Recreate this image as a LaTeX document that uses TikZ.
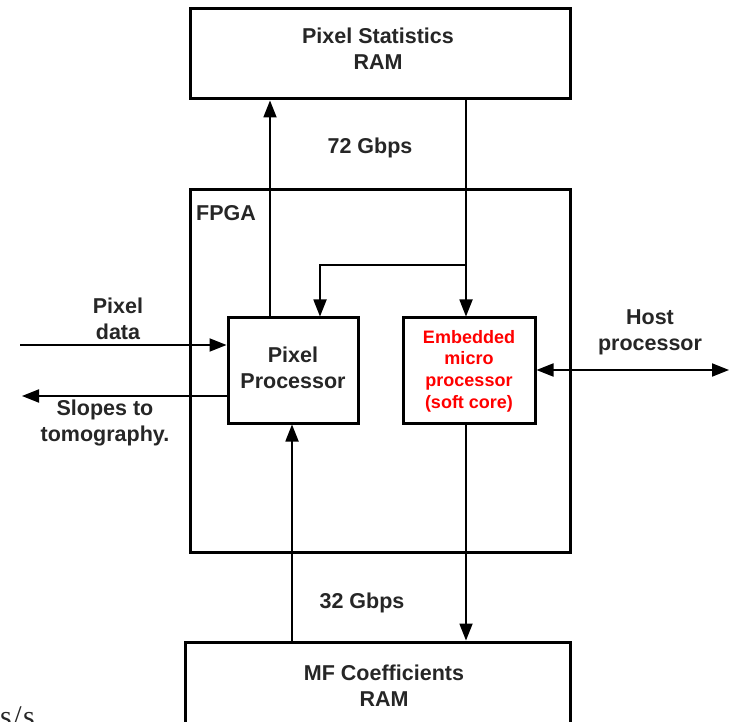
\documentclass[tikz,border=0pt]{standalone}
\usepackage{fontspec}
\setmainfont{Liberation Sans}
\newfontfamily\serifface{Liberation Serif}
\usetikzlibrary{arrows.meta}
\definecolor{embred}{RGB}{255,0,0}
\begin{document}
\begin{tikzpicture}[x=1pt,y=-1pt,
  box/.style={draw=black,line width=3pt,fill=white,inner sep=0pt,rectangle},
  lbl/.style={font=\bfseries\fontsize{21.5}{26}\selectfont,align=center,inner sep=0pt,text=black!85},
  conn/.style={line width=1.8pt},
  arr/.style={conn,-{Triangle[length=17pt,width=13pt]}},
  dblarr/.style={conn,{Triangle[length=17pt,width=13pt]}-{Triangle[length=17pt,width=13pt]}}]
\useasboundingbox (0,0) rectangle (729,722);
% boxes
\node[box,minimum width=380pt,minimum height=90pt] (stat) at (380,54) {};
\node[lbl] (statt) at (378,48.5) {Pixel Statistics\\RAM};
\node[box,minimum width=380pt,minimum height=362pt] (fpga) at (380,371) {};
\node[lbl,anchor=west] (fpgat) at (196,213) {FPGA};
\node[box,minimum width=130pt,minimum height=105pt] (pp) at (293,370.5) {};
\node[lbl] (ppt) at (293,368) {Pixel\\Processor};
\node[box,minimum width=132pt,minimum height=105pt] (emb) at (469,370.5) {};
\node[font=\bfseries\fontsize{18}{21.7}\selectfont,align=center,inner sep=0pt,text=embred] (embt) at (469,371) {Embedded\\micro\\processor\\(soft core)};
\node[box,minimum width=385pt,minimum height=88pt] (mf) at (377.5,686) {};
\node[lbl] (mft) at (384,686) {MF Coefficients\\RAM};
% labels
\node[lbl] (g72) at (370,148) {72 Gbps};
\node[lbl] (g32) at (362,603) {32 Gbps};
\node[lbl] (pdat) at (118,319) {Pixel\\data};
\node[lbl] (slope) at (105,423) {Slopes to\\tomography.};
\node[lbl] (host) at (650,332) {Host\\processor};
\node[font=\serifface\fontsize{30}{32}\selectfont,anchor=base west,inner sep=0pt,text=black!85] (ss) at (0,726) {s\kern1.5pt/\kern1.5pt s};
% helper coordinates
\coordinate (xup) at (270,0);
\coordinate (xbr) at (466,0);
\coordinate (xpp) at (320,0);
\coordinate (ybr) at (0,265);
\coordinate (xlo) at (292,0);
\coordinate (pin) at (20,345);
\coordinate (sout) at (22,396);
\coordinate (hout) at (729,370);
% connectors
\draw[arr] (pp.north -| xup) -- (stat.south -| xup);
\draw[arr] (stat.south -| xbr) -- (emb.north -| xbr);
\draw[arr] (ybr -| xbr) -- (ybr -| xpp) -- (pp.north -| xpp);
\draw[arr] (mf.north -| xlo) -- (pp.south -| xlo);
\draw[arr] (emb.south -| xbr) -- (mf.north -| xbr);
\draw[arr] (pin) -- (pp.west |- pin);
\draw[arr] (pp.west |- sout) -- (sout);
\draw[dblarr] (emb.east |- hout) -- (hout);
\end{tikzpicture}
\end{document}
